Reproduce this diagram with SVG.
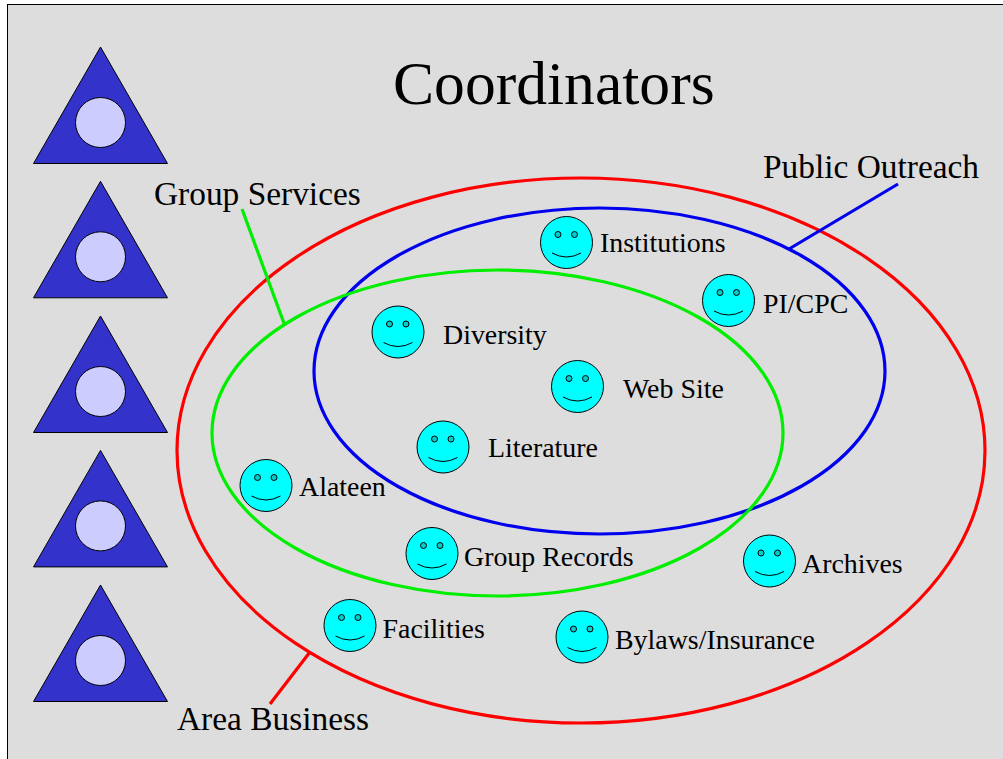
<svg xmlns="http://www.w3.org/2000/svg" width="1003" height="759" viewBox="0 0 1003 759">
<style>
text{font-family:"Liberation Serif","Times New Roman",serif;fill:#000}
.t{font-size:61.6px}.g{font-size:33.4px}.l{font-size:27.9px}
.ring{fill:none;stroke-width:3.2}
.tri{fill:#3333cc;stroke:#000;stroke-width:1}
.dot{fill:#ccccff;stroke:#000;stroke-width:1}
.face{fill:#00ffff;stroke:#000;stroke-width:1}
.eye{fill:#00cccc;stroke:#000;stroke-width:1}
.smile{fill:none;stroke:#000;stroke-width:1}
</style>
<defs>
<g id="tr"><polygon class="tri" points="100.5,47 33.5,163.5 167.5,163.5"/><circle class="dot" cx="100.5" cy="122.5" r="25"/></g>
<g id="sm"><circle class="face" r="26"/><circle class="eye" cx="-8.5" cy="-8" r="3"/><circle class="eye" cx="8" cy="-8" r="3"/><path class="smile" d="M-14.5,10.5Q0,18.5 14.5,10.5"/></g>
</defs>
<rect x="7.5" y="4.5" width="1000" height="760" fill="#dddddd" stroke="#000" stroke-width="1"/>
<text class="t" x="393" y="104">Coordinators</text>
<g id="triangles">
<use href="#tr"/><use href="#tr" y="134.3"/><use href="#tr" y="269"/><use href="#tr" y="403.4"/><use href="#tr" y="538"/>
</g>
<g id="connectors">
<ellipse class="ring" stroke="#ff0000" cx="581" cy="450.5" rx="404" ry="272.5"/>
<ellipse class="ring" stroke="#0000ee" cx="599.5" cy="371" rx="285.5" ry="163"/>
<ellipse class="ring" stroke="#00ee00" cx="497.5" cy="433" rx="285.5" ry="163"/>
<line class="ring" stroke="#0000ee" x1="789" y1="249" x2="898" y2="184"/>
<line class="ring" stroke="#00ee00" x1="242" y1="209" x2="285" y2="326"/>
<line class="ring" stroke="#ff0000" x1="310" y1="652" x2="270" y2="704"/>
</g>
<g id="public-outreach"><text class="g" x="763" y="178">Public Outreach</text></g>
<g id="group-services"><text class="g" x="154" y="205">Group Services</text></g>
<g id="area-business"><text class="g" x="177" y="730">Area Business</text></g>
<g id="institutions"><use href="#sm" x="566.5" y="242.5"/><text class="l" x="600" y="252">Institutions</text></g>
<g id="pi-cpc"><use href="#sm" x="728.5" y="300.5"/><text class="l" x="763" y="313">PI/CPC</text></g>
<g id="diversity"><use href="#sm" x="398" y="332"/><text class="l" x="443" y="344">Diversity</text></g>
<g id="web-site"><use href="#sm" x="577.5" y="386.5"/><text class="l" x="623" y="398">Web Site</text></g>
<g id="literature"><use href="#sm" x="443" y="447"/><text class="l" x="488" y="457">Literature</text></g>
<g id="alateen"><use href="#sm" x="266" y="485.5"/><text class="l" x="299" y="496">Alateen</text></g>
<g id="group-records"><use href="#sm" x="432" y="553.5"/><text class="l" x="464" y="566">Group Records</text></g>
<g id="archives"><use href="#sm" x="769.5" y="561"/><text class="l" x="802" y="573">Archives</text></g>
<g id="facilities"><use href="#sm" x="350" y="625.5"/><text class="l" x="382.5" y="638">Facilities</text></g>
<g id="bylaws-insurance"><use href="#sm" x="582" y="637"/><text class="l" x="615" y="649">Bylaws/Insurance</text></g>
</svg>
